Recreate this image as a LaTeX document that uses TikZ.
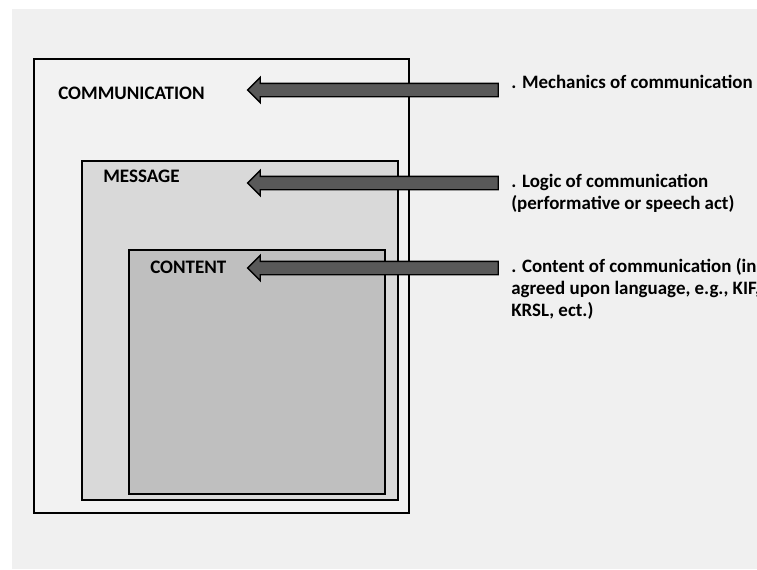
\documentclass[tikz,border=0pt]{standalone}
\usepackage{fontspec}
\setmainfont{Carlito}
\usetikzlibrary{shapes.arrows}

\begin{document}
\begin{tikzpicture}[x=0.75pt, y=-0.75pt]
\tikzset{cadre/.style={draw, line width=1.5pt},
  titre/.style={anchor=west, inner sep=0pt, font=\fontsize{14.3}{16.5}\selectfont\bfseries},
  note/.style={anchor=west, inner sep=0pt, align=left, font=\fontsize{14.2}{16.5}\selectfont\bfseries},
  fleche/.style={single arrow, shape border rotate=180, draw, line width=1pt, fill=black!65,
    minimum height=188pt, minimum width=18pt, single arrow head extend=4.5pt,
    inner xsep=0pt, inner ysep=4.5pt, anchor=east}}
\useasboundingbox (0,0) rectangle (757,569);
\fill[white] (0,0) rectangle (757,569);
\fill[black!6] (12,9) rectangle (757,569);
\draw[cadre, fill=black!5] (34,59) rectangle (409,513);
\draw[cadre, fill=black!15] (82,161) rectangle (398,500);
\draw[cadre, fill=black!25] (129,250) rectangle (385,494);
\node[titre] (C1) at (58,93) {COMMUNICATION};
\node[titre] (C2) at (103,176) {MESSAGE};
\node[titre] (C3) at (150,267) {CONTENT};
\node[note] (N1) at (511,82) {. Mechanics of communication};
\node[note] (N2) at (511,193.5) {. Logic of communication\\(performative or speech act)};
\node[note] (N3) at (511,289) {. Content of communication (in\\agreed upon language, e.g., KIF,\\KRSL, ect.)};
\node[fleche] (F1) at (499,90) {};
\node[fleche] (F2) at (499,183) {};
\node[fleche] (F3) at (499,268) {};
\end{tikzpicture}
\end{document}
